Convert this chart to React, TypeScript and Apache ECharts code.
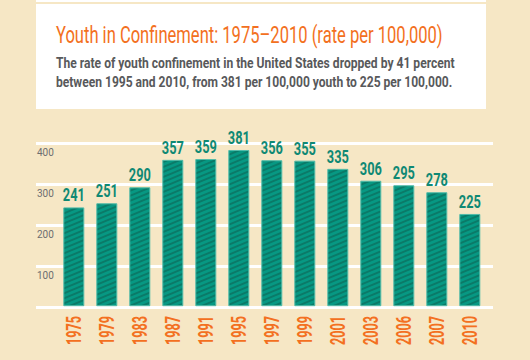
import React, { useEffect, useRef } from "react";
import * as echarts from "echarts";

const years = ["1975", "1979", "1983", "1987", "1991", "1995", "1997", "1999", "2001", "2003", "2006", "2007", "2010"];
const rates = [241, 251, 290, 357, 359, 381, 356, 355, 335, 306, 295, 278, 225];
const yMin = 0;
const yMax = 400;
const yStep = 100;

const titleText = "Youth in Confinement: 1975–2010 (rate per 100,000)";
const subLine1 = "The rate of youth confinement in the United States dropped by 41 percent";
const subLine2 = "between 1995 and 2010, from 381 per 100,000 youth to 225 per 100,000.";

const FONT = "Roboto, 'Noto Sans', sans-serif";
const CREAM = "#f6e7c5";
const TEAL = "#079883";
const STRIPE = "#0b7a68";
const LABEL_TEAL = "#0f8974";
const ORANGE = "#f37021";

function fitScale(text: string, font: string, width: number): number {
  const ctx = document.createElement("canvas").getContext("2d");
  if (!ctx) return 1;
  ctx.font = font;
  const w = ctx.measureText(text).width;
  return w > 0 ? width / w : 1;
}

function makePattern(): HTMLCanvasElement {
  const c = document.createElement("canvas");
  c.width = 12;
  c.height = 5;
  const ctx = c.getContext("2d")!;
  ctx.fillStyle = TEAL;
  ctx.fillRect(0, 0, 12, 5);
  ctx.strokeStyle = STRIPE;
  ctx.lineWidth = 1.9;
  ctx.beginPath();
  for (const dy of [-5, 0, 5]) {
    ctx.moveTo(-1, 5 + dy + 5 / 12);
    ctx.lineTo(13, dy - 5 / 12);
  }
  ctx.stroke();
  return c;
}

export default function App() {
  const ref = useRef<HTMLDivElement>(null);
  useEffect(() => {
    if (!ref.current) return;
    const chart = echarts.init(ref.current, null, { renderer: "svg" });
    const titleFont = `normal 23px ${FONT}`;
    const subFont = `bold 14px ${FONT}`;
    const valueFont = `bold 19px ${FONT}`;
    const yearFont = `bold 20px ${FONT}`;
    const titleScale = fitScale(titleText, titleFont, 387);
    const sub1Scale = fitScale(subLine1, subFont, 399);
    const sub2Scale = fitScale(subLine2, subFont, 397);
    const valueScale = fitScale("241", valueFont, 22);
    const yearScale = fitScale("1975", yearFont, 29);

    chart.setOption({
      animation: false,
      backgroundColor: CREAM,
      graphic: [
        { type: "rect", shape: { x: 36, y: 0, width: 450, height: 2 }, style: { fill: "#ffffff" }, z: 0 },
        { type: "rect", shape: { x: 36, y: 4, width: 450, height: 105 }, style: { fill: "#ffffff" }, z: 0 },
        {
          type: "text", x: 56, y: 34.8, scaleX: titleScale, z: 1,
          style: { text: titleText, fill: ORANGE, font: titleFont, verticalAlign: "middle", align: "left" },
        },
        {
          type: "text", x: 56, y: 63.2, scaleX: sub1Scale, z: 1,
          style: { text: subLine1, fill: "#58595b", font: subFont, verticalAlign: "middle", align: "left" },
        },
        {
          type: "text", x: 56, y: 82, scaleX: sub2Scale, z: 1,
          style: { text: subLine2, fill: "#58595b", font: subFont, verticalAlign: "middle", align: "left" },
        },
      ],
      grid: [
        { left: 36, right: 37, top: 143.7, bottom: 52.3 },
        { left: 57.3, right: 43.7, top: 142.2, bottom: 53.8 },
      ],
      xAxis: [
        { type: "category", gridIndex: 0, data: years, show: false },
        {
          type: "category", gridIndex: 1, data: years,
          axisLine: { show: false }, axisTick: { show: false }, axisLabel: { show: false },
        },
      ],
      yAxis: [
        {
          type: "value", gridIndex: 0, min: yMin, max: yMax, interval: yStep,
          axisLine: { show: false }, axisTick: { show: false },
          splitLine: { show: true, lineStyle: { color: "#ffffff", width: 3 } },
          axisLabel: {
            margin: -1, align: "left", verticalAlign: "top", padding: [4, 0, 0, 0],
            color: "#6d6e70", fontFamily: FONT, fontSize: 10,
            formatter: (v: number) => (v === 0 ? "" : String(v)),
          },
        },
        { type: "value", gridIndex: 1, min: yMin, max: yMax, interval: yStep, show: false, splitLine: { show: false } },
      ],
      series: [
        {
          type: "bar", xAxisIndex: 1, yAxisIndex: 1, data: rates, barWidth: 21,
          itemStyle: {
            color: { image: makePattern(), repeat: "repeat" },
            borderColor: "#52bba8", borderWidth: 1,
          },
        },
        {
          type: "custom", xAxisIndex: 1, yAxisIndex: 1, z: 5,
          data: rates.map((v, i) => [i, v]),
          renderItem: (_p: any, api: any) => {
            const pt = api.coord([api.value(0), api.value(1)]);
            return {
              type: "text", x: pt[0], y: pt[1] - 12.4, scaleX: valueScale,
              style: {
                text: String(api.value(1)), font: valueFont, fill: LABEL_TEAL,
                align: "center", verticalAlign: "middle",
              },
            };
          },
        },
        {
          type: "custom", xAxisIndex: 1, yAxisIndex: 1, z: 5,
          data: years.map((_y, i) => [i, yMin]),
          renderItem: (_p: any, api: any) => {
            const idx = api.value(0);
            const pt = api.coord([idx, api.value(1)]);
            return {
              type: "text", x: pt[0], y: pt[1] + 9.8, rotation: Math.PI / 2, scaleX: yearScale,
              style: {
                text: years[idx], font: yearFont, fill: ORANGE,
                align: "right", verticalAlign: "middle",
              },
            };
          },
        },
      ],
    });
    return () => chart.dispose();
  }, []);
  return <div ref={ref} style={{ position: "fixed", left: 0, top: 0, width: 530, height: 360 }} />;
}
